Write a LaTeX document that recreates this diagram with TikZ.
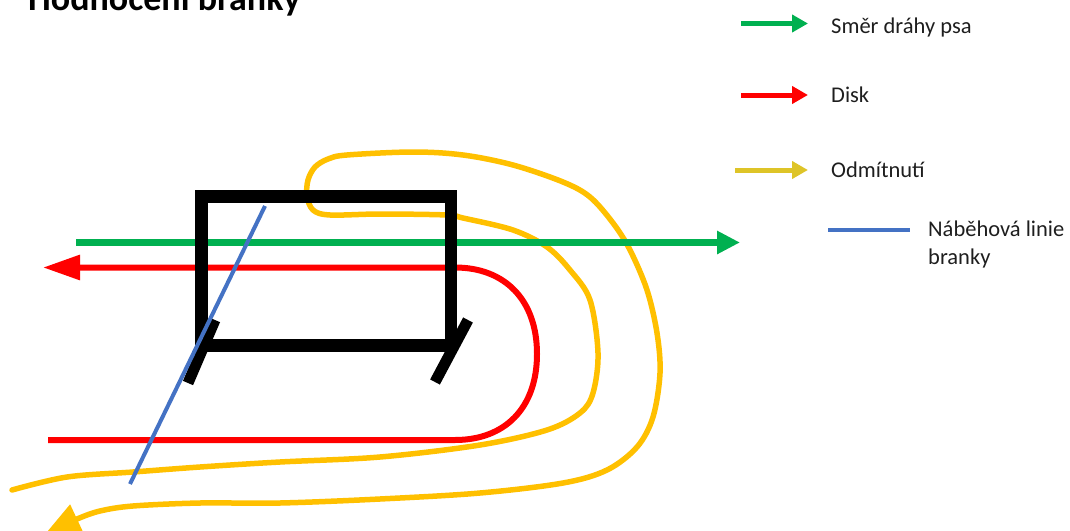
\documentclass[tikz,border=0pt]{standalone}
\usepackage{fontspec}
\setmainfont{Carlito}
\usetikzlibrary{arrows.meta}
\definecolor{dgreen}{RGB}{0,176,80}
\definecolor{dred}{RGB}{255,0,0}
\definecolor{dyellow}{RGB}{255,192,0}
\definecolor{lyellow}{RGB}{222,196,40}
\definecolor{dblue}{RGB}{68,114,196}
\definecolor{txt}{RGB}{30,30,30}
\tikzset{
  lbl/.style={anchor=base west, inner sep=0pt, text=txt, font=\fontsize{22.5}{28}\selectfont},
  greenpath/.style={draw=dgreen, line width=7pt, -{Triangle[length=23pt,width=22pt]}},
  redpath/.style={draw=dred, line width=6pt, line join=round, -{Triangle[length=37pt,width=24pt]}},
  yellowpath/.style={draw=dyellow, line width=5.5pt, line cap=round, line join=round, -{Triangle[length=34pt,width=30pt]}},
  goalline/.style={draw=black, line width=12.5pt},
  postline/.style={draw=black, line width=11pt},
  runline/.style={draw=dblue, line width=4pt},
  leggreen/.style={draw=dgreen, line width=5pt, -{Triangle[length=16pt,width=17pt]}},
  legred/.style={draw=dred, line width=5pt, -{Triangle[length=16pt,width=17pt]}},
  legyellow/.style={draw=lyellow, line width=5pt, -{Triangle[length=16pt,width=17pt]}},
}
\begin{document}
\begin{tikzpicture}[x=1pt,y=-1pt]
\useasboundingbox (0,0) rectangle (1070,530);
% title (cut at top, as in the reference)
\node[anchor=base west, inner sep=0pt, font=\bfseries\fontsize{36}{43}\selectfont] (title) at (28,10) {Hodnocení branky};

% yellow refusal path
\draw[yellowpath] plot[smooth, tension=0.55] coordinates {
 (12,490) (67,477) (133,472) (200,467) (280,462) (380,457) (480,445) (547,430) (580,413)
 (593,393) (598,353) (590,300) (570,270) (547,247) (513,230) (463,218) (447,215)
 (380,214) (330,215) (313,210) (307,196) (308,180) (315,167) (328,159) (347,155)
 (413,152) (463,155) (513,165) (563,182) (590,197) (613,223) (630,250) (647,290)
 (657,333) (660,373) (653,417) (637,447) (607,470) (563,483) (480,493) (380,499)
 (280,503) (200,503) (133,506) (100,511) (77,519) (46,533)};

% green path
\coordinate (g1) at (76,242.5);
\coordinate (g2) at (740,242.5);
\draw[greenpath] (g1) -- (g2);

% red path
\coordinate (r1) at (48,440);
\coordinate (r2) at (43,267.5);
\draw[redpath] (r1) -- (455,440) .. controls (505,440) and (537,408) .. (537,354)
  .. controls (537,300) and (505,267.5) .. (455,267.5) -- (r2);

% goal
\draw[goalline] (201.5,196.5) rectangle (451,345.5);
\draw[postline] (215,320) -- (188,383);
\draw[postline] (468,320) -- (435,382);

% run-in line
\coordinate (b1) at (265,206);
\coordinate (b2) at (130,484);
\draw[runline] (b1) -- (b2);

% legend
\coordinate (lg1) at (741,23.5); \coordinate (lg2) at (808,23.5);
\draw[leggreen] (lg1) -- (lg2);
\node[lbl] (lgt) at (831,33) {Směr dráhy psa};

\coordinate (lr1) at (741,95); \coordinate (lr2) at (808,95);
\draw[legred] (lr1) -- (lr2);
\node[lbl] (lrt) at (831,102.5) {Disk};

\coordinate (ly1) at (735,170); \coordinate (ly2) at (808,170);
\draw[legyellow] (ly1) -- (ly2);
\node[lbl] (lyt) at (831,177) {Odmítnutí};

\coordinate (lb1) at (828,230); \coordinate (lb2) at (910,230);
\draw[runline] (lb1) -- (lb2);
\node[lbl] (lbt) at (928,236) {Náběhová linie};
\node[lbl] (lbt2) at (928,264) {branky};
\end{tikzpicture}
\end{document}
